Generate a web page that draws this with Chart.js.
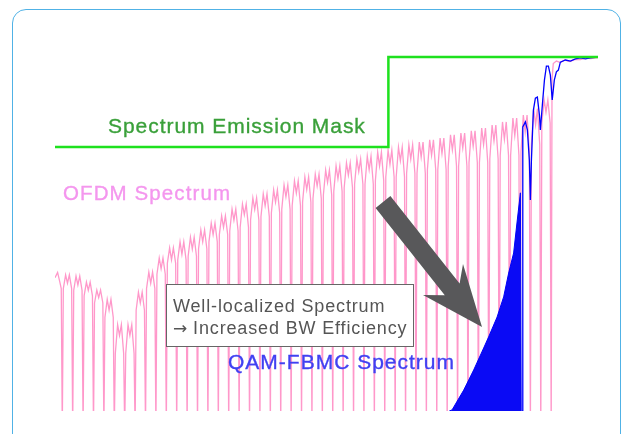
<!DOCTYPE html>
<html>
<head>
<meta charset="utf-8">
<script src="https://cdn.jsdelivr.net/npm/chart.js@4.4.0/dist/chart.umd.min.js"></script>
<style>
  html, body { margin: 0; padding: 0; background: #fff; }
  #wrap { position: relative; width: 629px; height: 434px; overflow: hidden; font-family: "Liberation Sans", Arial, sans-serif; }
  #frame { position: absolute; left: 12px; top: 9px; width: 607px; height: 470px; border: 1.5px solid rgb(80,178,230); border-radius: 14px; }
  #spec { position: absolute; left: 0; top: 0; }
  .lbl { position: absolute; white-space: nowrap; line-height: 1; }
  #maskLbl { left: 108px; top: 115px; font-size: 21px; letter-spacing: 0.95px; color: rgb(58,160,58); -webkit-text-stroke: 0.35px rgb(58,160,58); }
  #ofdmLbl { left: 63px; top: 183px; font-size: 20.5px; letter-spacing: 1.1px; color: rgb(244,150,238); -webkit-text-stroke: 0.35px rgb(244,150,238); }
  #fbmcLbl { left: 228px; top: 351px; font-size: 21px; letter-spacing: 1px; color: rgb(64,64,242); -webkit-text-stroke: 0.35px rgb(64,64,242); }
  #note { position: absolute; left: 166px; top: 284px; width: 246px; height: 61px; border: 1.3px solid #666; background: #fff; }
  #note div { position: absolute; left: 6px; font-size: 18px; letter-spacing: 0.85px; color: #555; white-space: nowrap; line-height: 1; }
  #note .arr { font-family: "DejaVu Sans", sans-serif; font-size: 17px; letter-spacing: 0; }
  #arrow { position: absolute; left: 0; top: 0; }
</style>
</head>
<body>
<div id="wrap">
  <div id="frame"></div>
  <canvas id="spec" width="629" height="434"></canvas>
  <svg id="arrow" width="629" height="434">
    <polygon points="390.4,196.1 459.6,283.5 463,264 482,327 423,295 444.8,295.3 375.6,207.9" fill="rgb(88,88,90)"/>
  </svg>
  <div class="lbl" id="maskLbl">Spectrum Emission Mask</div>
  <div class="lbl" id="ofdmLbl">OFDM Spectrum</div>
  <div class="lbl" id="fbmcLbl">QAM-FBMC Spectrum</div>
  <div id="note">
    <div style="top:12px">Well-localized Spectrum</div>
    <div style="top:34px"><span class="arr">&#8594;</span> Increased BW Efficiency</div>
  </div>
</div>
<script>
// x in subcarrier spacings, y in dB
const FLOOR = -105;

const maskX = [-0.7, 31.35, 31.35, 51.5];
const maskY = [-26.7, -26.7, -1.67, -1.67];

// OFDM: deep nulls at every subcarrier, ripple between them
const ofdmNotchX = [0,1,2,3,4,5,6,7,8,9,10,11,12,13,14,15,16,17,18,19,20,21,22,23,24,25,26,27,28,29,30,31,32,33,34,35,36,37,38,39,40,41,42,43,44,45,46,47];
const ofdmPeak = [-62.2,-62.5,-64.2,-66.4,-69,-76,-76,-67,-61.4,-57.5,-54.7,-53,-51.7,-49.7,-47.8,-45.8,-43.9,-42.5,-40.8,-39.7,-38.6,-37.2,-36.1,-35,-34.2,-33.1,-31.9,-31.1,-30,-29.2,-28.1,-27.5,-26.7,-26.1,-25.3,-24.7,-24.2,-23.3,-22.8,-22.2,-21.4,-20.6,-19.7,-18.6,-17.8,-16,-13.6];
const ofdmMid = [-64.5,-65,-66.5,-68.5,-72,-79,-79,-70,-64.5,-60.5,-58,-56.5,-55,-53,-51,-49,-47,-45.5,-44,-43,-42,-40.5,-39.5,-38.5,-37.5,-36.5,-35.5,-34.5,-33.5,-33,-32,-31.5,-30.5,-30,-29.5,-29,-28.5,-27.5,-27,-26.5,-26,-25,-24.5,-23.5,-22.5,-20.5,-17];
const ofdmEdge = [-66,-66.5,-68,-70,-74,-84,-84,-72,-66,-62,-59,-58,-57,-55,-53,-51,-50,-49,-47,-46,-45,-44,-43,-42,-41,-40,-39,-38,-37,-37,-36,-35,-35,-34,-34,-33,-33,-32,-32,-31,-31,-30,-29,-29,-28,-26,-20];
const ofdmHeadX = [-0.7, -0.45, -0.25, -0.1];
const ofdmHeadY = [-63, -61.5, -64, -66];
const ofdmTailX = [47.08, 47.2, 47.5, 47.9, 48.3, 48.8, 49.3, 49.8, 50.3, 50.8, 51.5];
const ofdmTailY = [-8, -3.5, -2.8, -3.2, -2.5, -2.9, -2.3, -2.4, -2, -2.1, -1.8];

// QAM-FBMC: dense nulls low down (drawn filled), then the upper trace
const fbmcLowX = [37.2, 37.47, 38.59, 39.55, 40.51, 40.99, 41.8, 42.43, 42.91, 43.39, 43.72, 44.04, 44.12];
const fbmcLowY = [-100, -99.7, -94.2, -88.6, -82.5, -79.4, -73.9, -68.3, -61.7, -56.1, -47.5, -39.4, -100];
const fbmcHighX = [44.2, 44.27, 44.52, 44.71, 44.9, 45.0, 45.1, 45.29, 45.48, 45.67, 45.87, 45.96, 46.15, 46.35, 46.54, 46.73, 46.92, 47.1, 47.3, 47.5, 47.69, 47.88, 48.37, 48.85, 49.33, 49.8, 50.29, 50.77, 51.5];
const fbmcHighY = [-100, -21.1, -19.7, -21.9, -30.3, -41.4, -30.3, -16.4, -13.1, -12.8, -17.8, -21.9, -15, -8.1, -4.2, -4.2, -6.7, -13.6, -8.1, -5.8, -5.3, -3.1, -2.5, -2.8, -2.2, -1.9, -2.2, -1.9, -1.7];

const zip = (xs, ys) => xs.map((x, i) => ({x, y: ys[i]}));

function ofdmPoints() {
  const pts = zip(ofdmHeadX, ofdmHeadY);
  ofdmNotchX.forEach((n, k) => {
    pts.push({x: n, y: FLOOR});
    if (k < ofdmPeak.length) {
      const w = ofdmNotchX[k + 1] - n;
      pts.push(
        {x: n + 0.1 * w, y: ofdmEdge[k]},
        {x: n + 0.32 * w, y: ofdmPeak[k]},
        {x: n + 0.5 * w, y: ofdmMid[k]},
        {x: n + 0.68 * w, y: ofdmPeak[k]},
        {x: n + 0.9 * w, y: ofdmEdge[k]}
      );
    }
  });
  return pts.concat(zip(ofdmTailX, ofdmTailY));
}

const line = (data, color, width, extra) => Object.assign({
  data, borderColor: color, borderWidth: width, pointRadius: 0, tension: 0, fill: false
}, extra || {});

new Chart(document.getElementById('spec').getContext('2d'), {
  type: 'line',
  data: {
    datasets: [
      line(zip(maskX, maskY), 'rgb(30,225,30)', 2.5),
      line(zip(fbmcHighX, fbmcHighY), 'rgb(0,0,255)', 1.3),
      line(zip(fbmcLowX, fbmcLowY), 'rgb(0,0,250)', 1, {fill: 'start', backgroundColor: 'rgb(10,10,245)'}),
      line(ofdmPoints(), 'rgb(255,152,202)', 1.3)
    ]
  },
  options: {
    responsive: false,
    animation: false,
    layout: { padding: { left: 55, right: 31, top: 51, bottom: 23 } },
    plugins: { legend: { display: false }, tooltip: { enabled: false } },
    scales: {
      x: { type: 'linear', display: false, min: -0.7, max: 51.5 },
      y: { display: false, min: -100, max: 0 }
    }
  }
});
</script>
</body>
</html>
